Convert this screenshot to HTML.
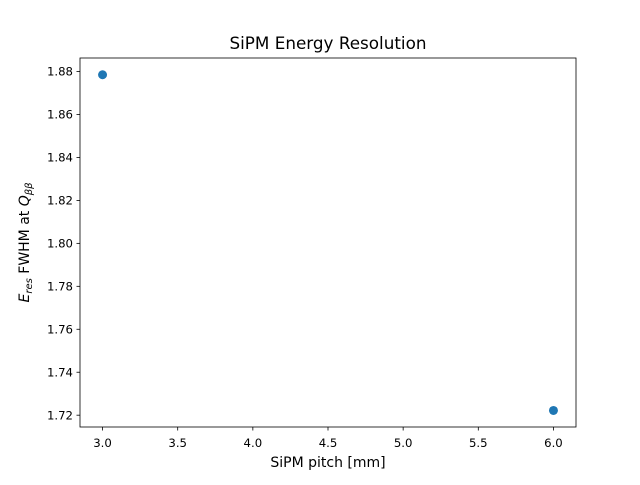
<!DOCTYPE html>
<html><head><meta charset="utf-8"><style>
html,body{margin:0;padding:0;background:#fff;}
svg text{font-family:"DejaVu Sans","Liberation Sans",sans-serif;fill:#000;}
</style></head><body>
<svg id="chart" width="640" height="480" xmlns="http://www.w3.org/2000/svg">
<rect x="0" y="0" width="640" height="480" fill="#fff"/>
<text x="328" y="49" font-size="16.8" text-anchor="middle">SiPM Energy Resolution</text>
<text x="328" y="467" font-size="14" text-anchor="middle">SiPM pitch [mm]</text>
<text transform="translate(29,242.5) rotate(-90)" font-size="14" text-anchor="middle"><tspan font-style="italic">E</tspan><tspan font-style="italic" font-size="10" dy="3">res</tspan><tspan dy="-3"> FWHM at </tspan><tspan font-style="italic">Q</tspan><tspan font-style="italic" font-size="10" dy="3">ββ</tspan></text>
<g id="xt"></g>
<g id="yt"></g>
<g id="pts"></g>
<rect x="80" y="58" width="496" height="369" fill="none" stroke="#000" stroke-width="0.8"/>
</svg>
<script>
const pitches = [3.0, 6.0];
const resolutions = [1.8785, 1.7222];
const xTicks = [3.0, 3.5, 4.0, 4.5, 5.0, 5.5, 6.0];
const yTicks = [1.72, 1.74, 1.76, 1.78, 1.80, 1.82, 1.84, 1.86, 1.88];
const NS = "http://www.w3.org/2000/svg";
const L = 80, R = 576, T = 58, B = 427;
const xMin = 2.85, xMax = 6.15, yMin = 1.7145, yMax = 1.8863;
const sx = v => L + (v - xMin) / (xMax - xMin) * (R - L);
const sy = v => B - (v - yMin) / (yMax - yMin) * (B - T);
function mk(tag, attrs, parent){const e=document.createElementNS(NS,tag);for(const k in attrs)e.setAttribute(k,attrs[k]);parent.appendChild(e);return e;}
const xt = document.getElementById('xt'), yt = document.getElementById('yt'), pts = document.getElementById('pts');
xTicks.forEach(v => {
  const x = sx(v);
  const l = mk('line',{x1:x,x2:x,y1:B,y2:B+3.5,stroke:'#000','stroke-width':0.8},xt);
  
  
  const t = mk('text',{x:x,y:B+20,'font-size':11.7,'text-anchor':'middle'},xt);
  t.textContent = v.toFixed(1);
  
  
});
yTicks.forEach(v => {
  const y = sy(v);
  const l = mk('line',{x1:L-3.5,x2:L,y1:y,y2:y,stroke:'#000','stroke-width':0.8},yt);
  
  
  const t = mk('text',{x:L-7,y:y+4.2,'font-size':11.7,'text-anchor':'end'},yt);
  t.textContent = v.toFixed(2);
  
  
});
pitches.forEach((p, i) => {
  const c = mk('circle',{cx:sx(p),cy:sy(resolutions[i]),r:4.5,fill:'#1f77b4'},pts);
  
  
});
</script>
</body></html>
